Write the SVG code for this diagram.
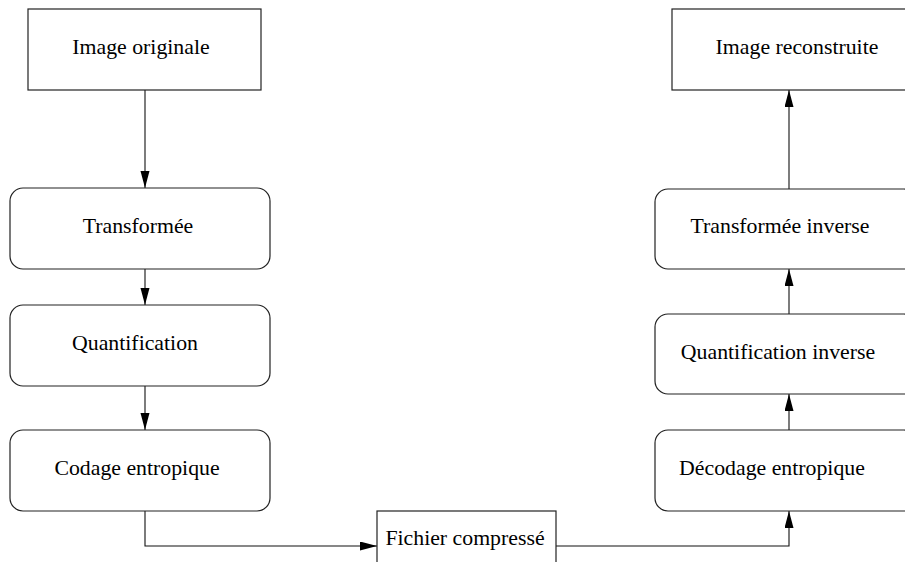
<svg xmlns="http://www.w3.org/2000/svg" width="905" height="562" viewBox="0 0 905 562">
<style>
.box{fill:#fff;stroke:#222;stroke-width:1.2}
.lbl{font-family:"Liberation Serif","Times New Roman",serif;font-size:21.8px;fill:#000;text-anchor:middle}
.con{fill:none;stroke:#111;stroke-width:1.1}
</style>
<defs>
<marker id="ah" markerUnits="userSpaceOnUse" markerWidth="18" markerHeight="10" refX="17" refY="4.5" orient="auto">
<path d="M0,0 L17,4.5 L0,9 z" fill="#000"/>
</marker>
</defs>
<rect width="905" height="562" fill="#fff"/>
<g id="connectors">
<path class="con" d="M145,90 V188" marker-end="url(#ah)"/>
<path class="con" d="M145,269 V305" marker-end="url(#ah)"/>
<path class="con" d="M145,386 V430" marker-end="url(#ah)"/>
<path class="con" d="M145,511 V546 H377" marker-end="url(#ah)"/>
<path class="con" d="M556,546 H789 V511" marker-end="url(#ah)"/>
<path class="con" d="M789,430 V394" marker-end="url(#ah)"/>
<path class="con" d="M789,314 V269" marker-end="url(#ah)"/>
<path class="con" d="M789,189 V90" marker-end="url(#ah)"/>
</g>
<g id="image-originale">
<rect class="box" x="28" y="9" width="233" height="81"/>
<text class="lbl" x="141" y="54">Image originale</text>
</g>
<g id="transformee">
<rect class="box" x="10" y="188" width="260" height="81" rx="13"/>
<text class="lbl" x="138" y="233">Transformée</text>
</g>
<g id="quantification">
<rect class="box" x="10" y="305" width="260" height="81" rx="13"/>
<text class="lbl" x="135" y="350">Quantification</text>
</g>
<g id="codage">
<rect class="box" x="10" y="430" width="260" height="81" rx="13"/>
<text class="lbl" x="137" y="475">Codage entropique</text>
</g>
<g id="fichier">
<rect class="box" x="377" y="511" width="179" height="70"/>
<text class="lbl" x="465" y="545">Fichier compressé</text>
</g>
<g id="decodage">
<rect class="box" x="655" y="430" width="262" height="81" rx="13"/>
<text class="lbl" x="772" y="475">Décodage entropique</text>
</g>
<g id="quantification-inverse">
<rect class="box" x="655" y="314" width="262" height="80" rx="13"/>
<text class="lbl" x="778" y="359">Quantification inverse</text>
</g>
<g id="transformee-inverse">
<rect class="box" x="655" y="189" width="262" height="80" rx="13"/>
<text class="lbl" x="780" y="233">Transformée inverse</text>
</g>
<g id="image-reconstruite">
<rect class="box" x="672" y="9" width="240" height="81"/>
<text class="lbl" x="797" y="54">Image reconstruite</text>
</g>
</svg>
